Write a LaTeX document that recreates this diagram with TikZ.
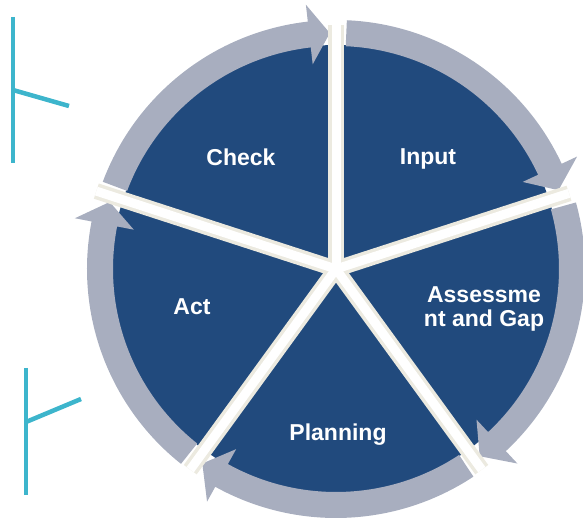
\documentclass[tikz,border=0pt]{standalone}
\usepackage{fontspec}
\setmainfont{Liberation Sans}
\usetikzlibrary{positioning}

\definecolor{cycleblue}{RGB}{33,74,125}
\definecolor{ringgray}{RGB}{168,174,191}
\definecolor{spokecream}{RGB}{236,234,224}
\definecolor{tickteal}{RGB}{61,181,204}

\begin{document}
\begin{tikzpicture}[x=1pt, y=1pt, phase node/.style={text=white, font=\fontsize{23}{24}\selectfont\bfseries, align=center, inner sep=0pt}, ring arrow/.style={fill=ringgray, draw=none}, spoke/.style={draw=spokecream, line width=16pt}, spoke core/.style={draw=white, line width=9pt}, tick/.style={draw=tickteal, line width=4.5pt}]
      \useasboundingbox (0,0) rectangle (583,524);

      % teal markers on the left
      \draw[tick] (13,507) -- (13,361);
      \draw[tick] (13,434) -- (69,418);
      \draw[tick] (26,156) -- (26,29);
      \draw[tick] (26,102) -- (81,125);

      \begin{scope}[shift={(336,255)}]
      \coordinate (hub) at (0,0);
      \fill[cycleblue] (hub) circle (224);

      % arrows round the ring, clockwise
      \fill[ring arrow] (87.5:249) arc[start angle=87.5, end angle=25, radius=249] -- (25:266) -- (19.5:236) -- (25:206) -- (25:223) arc[start angle=25, end angle=87.5, radius=223] -- cycle;
      \fill[ring arrow] (15.5:249) arc[start angle=15.5, end angle=-47, radius=249] -- (-47:266) -- (-52.5:236) -- (-47:206) -- (-47:223) arc[start angle=-47, end angle=15.5, radius=223] -- cycle;
      \fill[ring arrow] (-56.5:249) arc[start angle=-56.5, end angle=-119, radius=249] -- (-119:266) -- (-124.5:236) -- (-119:206) -- (-119:223) arc[start angle=-119, end angle=-56.5, radius=223] -- cycle;
      \fill[ring arrow] (-128.5:249) arc[start angle=-128.5, end angle=-191, radius=249] -- (-191:266) -- (-196.5:236) -- (-191:206) -- (-191:223) arc[start angle=-191, end angle=-128.5, radius=223] -- cycle;
      \fill[ring arrow] (159.5:249) arc[start angle=159.5, end angle=96.5, radius=249] -- (96.5:266) -- (91.5:236) -- (96.5:206) -- (96.5:223) arc[start angle=96.5, end angle=159.5, radius=223] -- cycle;

      % spokes between the phases
      \coordinate (s1) at (90:244);
      \coordinate (s2) at (18:245);
      \coordinate (s3) at (-54:248);
      \coordinate (s4) at (-126:248);
      \coordinate (s5) at (162:252);
      \draw[spoke] (hub) -- (s1);
      \draw[spoke] (hub) -- (s2);
      \draw[spoke] (hub) -- (s3);
      \draw[spoke] (hub) -- (s4);
      \draw[spoke] (hub) -- (s5);
      \draw[spoke core] (hub) -- (s1);
      \draw[spoke core] (hub) -- (s2);
      \draw[spoke core] (hub) -- (s3);
      \draw[spoke core] (hub) -- (s4);
      \draw[spoke core] (hub) -- (s5);
      \end{scope}

      \node[phase node] (input) at (428,365) {Input};
      \node[phase node] (assess) at (484,215) {Assessme\\nt and Gap};
      \node[phase node] (planning) at (338,89) {Planning};
      \node[phase node] (act) at (192,217) {Act};
      \node[phase node] (check) at (241,367) {Check};
    \end{tikzpicture}
\end{document}
